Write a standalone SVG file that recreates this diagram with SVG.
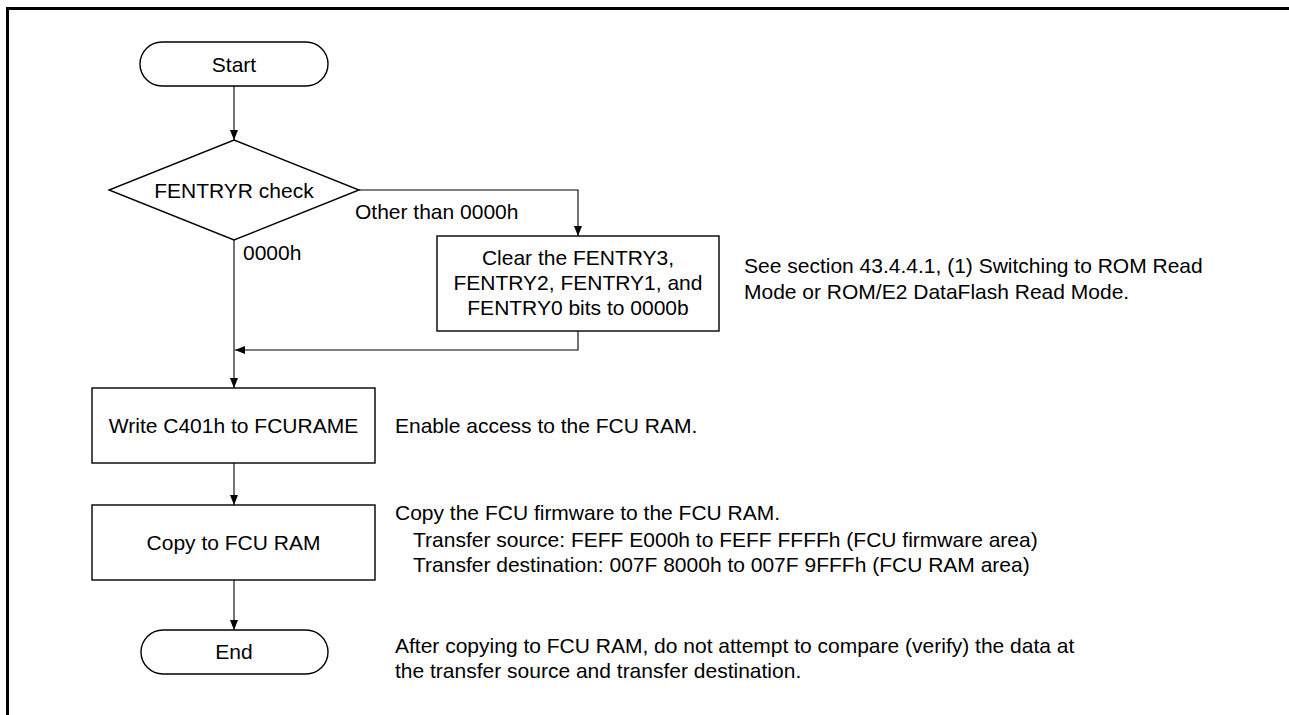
<svg xmlns="http://www.w3.org/2000/svg" width="1289" height="715" viewBox="0 0 1289 715">
<defs>
<marker id="ah" viewBox="0 0 10 8" refX="10" refY="4" markerWidth="10" markerHeight="8" markerUnits="userSpaceOnUse" orient="auto">
<path d="M0,0 L10,4 L0,8 Z" fill="#000"/>
</marker>
</defs>
<style>
text{font-family:"Liberation Sans",Arial,sans-serif;font-size:21px;fill:#000}
.c{text-anchor:middle}
.s{fill:#fff;stroke:#000;stroke-width:1.4}
.l{fill:none;stroke:#000;stroke-width:1.1}
.a{marker-end:url(#ah)}
</style>
<rect width="1289" height="715" fill="#fff"/>
<g id="frame">
<line x1="7.5" y1="7" x2="7.5" y2="715" stroke="#000" stroke-width="3"/>
<line x1="6" y1="8.5" x2="1289" y2="8.5" stroke="#000" stroke-width="3"/>
</g>
<g id="connectors">
<line class="l a" x1="234" y1="86" x2="234" y2="140"/>
<polyline class="l a" points="359,190 578,190 578,236"/>
<line class="l a" x1="234" y1="240" x2="234" y2="388"/>
<polyline class="l a" points="578,331 578,350 235,350"/>
<line class="l a" x1="234" y1="463" x2="234" y2="505"/>
<line class="l a" x1="234" y1="580" x2="234" y2="630"/>
<text x="355" y="219">Other than 0000h</text>
<text x="243" y="260">0000h</text>
</g>
<g id="start">
<rect class="s" x="140" y="42" width="188" height="44" rx="22"/>
<text class="c" x="234" y="71.5">Start</text>
</g>
<g id="check">
<polygon class="s" points="234,140 359,190 234,240 109,190"/>
<text class="c" x="234" y="197.5">FENTRYR check</text>
</g>
<g id="clear">
<rect class="s" x="437" y="236" width="282" height="95"/>
<text class="c" x="578" y="265">Clear the FENTRY3,</text>
<text class="c" x="578" y="290">FENTRY2, FENTRY1, and</text>
<text class="c" x="578" y="315">FENTRY0 bits to 0000b</text>
</g>
<g id="write">
<rect class="s" x="92" y="388" width="283" height="75"/>
<text class="c" x="233.5" y="433">Write C401h to FCURAME</text>
</g>
<g id="copy">
<rect class="s" x="92" y="505" width="283" height="75"/>
<text class="c" x="233.5" y="550">Copy to FCU RAM</text>
</g>
<g id="end">
<rect class="s" x="141" y="630" width="187" height="44" rx="22"/>
<text class="c" x="234" y="659">End</text>
</g>
<g id="notes">
<text x="744" y="273">See section 43.4.4.1, (1) Switching to ROM Read</text>
<text x="744" y="299">Mode or ROM/E2 DataFlash Read Mode.</text>
<text x="395" y="433">Enable access to the FCU RAM.</text>
<text x="395" y="520">Copy the FCU firmware to the FCU RAM.</text>
<text x="413" y="547">Transfer source: FEFF E000h to FEFF FFFFh (FCU firmware area)</text>
<text x="413" y="572">Transfer destination: 007F 8000h to 007F 9FFFh (FCU RAM area)</text>
<text x="395" y="653">After copying to FCU RAM, do not attempt to compare (verify) the data at</text>
<text x="395" y="678">the transfer source and transfer destination.</text>
</g>
</svg>
